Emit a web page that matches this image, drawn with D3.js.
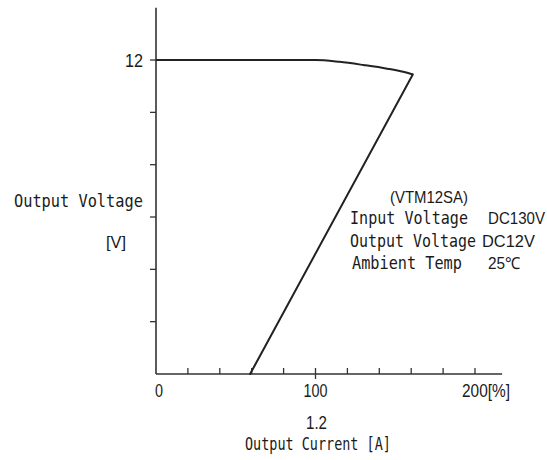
<!DOCTYPE html>
<html>
<head>
<meta charset="utf-8">
<script src="https://cdn.jsdelivr.net/npm/d3@7"></script>
<style>
  body { margin: 0; background: #fff; }
  .mono { font-family: "DejaVu Sans Mono", monospace; fill: #1a1a1a; }
  .sans { font-family: "Liberation Sans", Arial, sans-serif; fill: #1a1a1a; }
</style>
</head>
<body>
<svg id="chart" width="547" height="460"></svg>
<script>
// Data (output current in %, output voltage in V)
const currentPct = [0, 100, 115, 130, 145, 155, 161, 59]
const voltage    = [12, 12, 11.93, 11.81, 11.67, 11.55, 11.45, 0]

const xTicks = [20, 40, 60, 80, 100, 120, 140, 160, 180, 200]
const xTickLabels = ['0', '100', '200[%]']
const xTickValues = [0, 100, 200]
const yTicks = [2, 4, 6, 8, 10, 12]

const specLines = [
    ['Input Voltage', 'DC130V'],
    ['Output Voltage', 'DC12V'],
    ['Ambient Temp', '25\u2103']
]

const svg = d3.select('#chart')

// helper: text squeezed horizontally to a measured width
function label(cls, tx, ty, size, len, str) {
    const t = svg.append('text').attr('class', cls)
        .attr('font-size', size)
        .text(str)
    const w = t.node().getComputedTextLength()
    t.attr('transform', `translate(${tx},${ty}) scale(${len / w},1)`)
    return t
}

// scales
const x = d3.scaleLinear().domain([0, 200]).range([156, 475])
const y = d3.scaleLinear().domain([0, 14]).range([374, 7.7])

// axes lines
svg.append('line')
    .attr('x1', x(0)).attr('x2', x(0))
    .attr('y1', y(14)).attr('y2', y(0))
    .attr('stroke', '#333').attr('stroke-width', 1.6)
svg.append('line')
    .attr('x1', x(0)).attr('x2', x(217))
    .attr('y1', y(0)).attr('y2', y(0))
    .attr('stroke', '#333').attr('stroke-width', 1.6)

// x ticks (pointing up, 100 crosses the axis)
svg.selectAll('.xtick').data(xTicks).join('line')
    .attr('class', 'xtick')
    .attr('x1', d => x(d)).attr('x2', d => x(d))
    .attr('y1', y(0) - 6).attr('y2', d => d === 100 ? y(0) + 5 : y(0))
    .attr('stroke', '#333').attr('stroke-width', 1.3)

// y ticks (pointing left)
svg.selectAll('.ytick').data(yTicks).join('line')
    .attr('class', 'ytick')
    .attr('x1', x(0) - 6).attr('x2', x(0))
    .attr('y1', d => y(d)).attr('y2', d => y(d))
    .attr('stroke', '#333').attr('stroke-width', 1.3)

// tick labels
const xLabLen = [8, 24, 48]
xTickValues.forEach((v, i) => {
    const left = v === 200 ? x(v) - 13 : x(v) - xLabLen[i] / 2 + (v === 0 ? 3 : 0)
    label('sans', left, 397, 18, xLabLen[i], xTickLabels[i])
})
label('sans', 125, y(12) + 6.5, 18, 18, '12')

// axis titles
label('sans', 306, 429, 18, 21, '1.2')
label('mono', 245, 450, 17, 146, 'Output Current [A]')
label('mono', 14, 207, 18, 129, 'Output Voltage')
label('sans', 106, 248, 17, 20, '[V]')

// curve: rounded roll-off at the top, then straight fold-back line
const pts = d3.zip(currentPct, voltage)
const rollOff = pts.slice(0, 7)
const foldBack = pts.slice(6)
svg.append('path')
    .datum(rollOff)
    .attr('d', d3.line().x(d => x(d[0])).y(d => y(d[1])).curve(d3.curveMonotoneX))
    .attr('fill', 'none').attr('stroke', '#222').attr('stroke-width', 2)
svg.append('path')
    .datum(foldBack)
    .attr('d', d3.line().x(d => x(d[0])).y(d => y(d[1])))
    .attr('fill', 'none').attr('stroke', '#222').attr('stroke-width', 2)
    .attr('stroke-linecap', 'round')

// spec block
label('sans', 390, 203, 16, 78, '(VTM12SA)')
const specY = [224, 247, 269]
const nameX = [350, 350, 352], nameLen = [118, 126, 110]
const valX = [488, 482, 488], valLen = [57, 53, 32]
specLines.forEach((s, i) => {
    label('mono', nameX[i], specY[i], 17.5, nameLen[i], s[0])
    label('sans', valX[i], specY[i], 16.5, valLen[i], s[1])
})
</script>
</body>
</html>
